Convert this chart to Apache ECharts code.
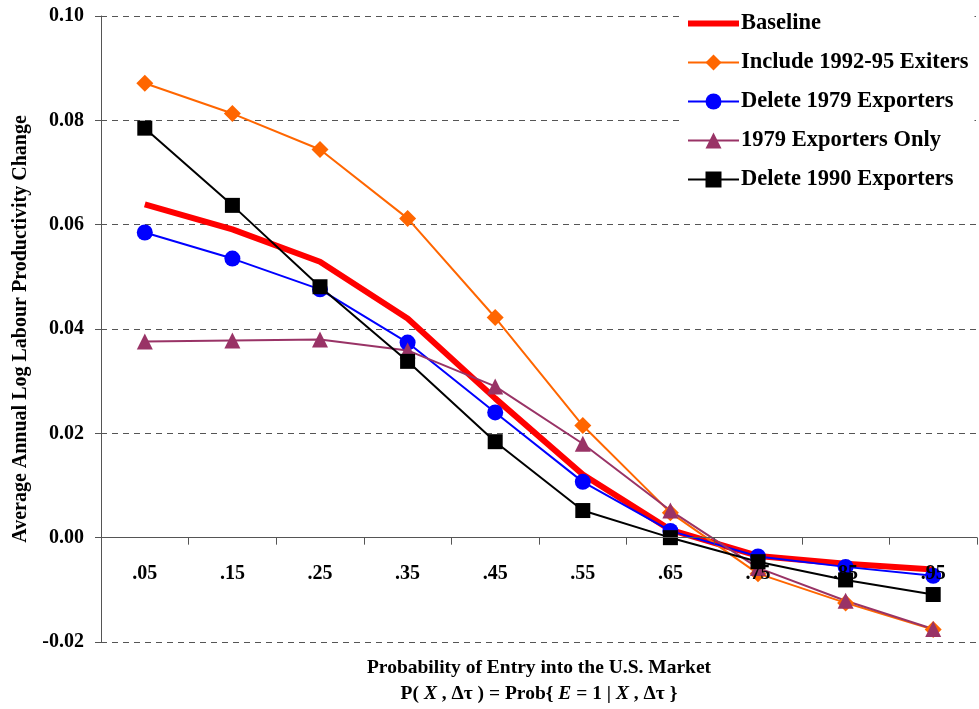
<!DOCTYPE html>
<html>
<head>
<meta charset="utf-8">
<script src="https://cdn.jsdelivr.net/npm/echarts@6/dist/echarts.min.js"></script>
<style>
  html, body { margin: 0; padding: 0; background: #fff; }
  #chart { width: 979px; height: 709px; }
</style>
</head>
<body>
<div id="chart"></div>
<script>
// Probability-of-entry bins
const categories = ['.05', '.15', '.25', '.35', '.45', '.55', '.65', '.75', '.85', '.95'];

// Average annual log labour productivity change by specification
const baseline      = [0.0639, 0.0591, 0.0529, 0.0420, 0.0267, 0.0121, 0.0015, -0.0035, -0.0050, -0.0061];
const include9295   = [0.0871, 0.0813, 0.0744, 0.0612, 0.0422, 0.0215, 0.0048, -0.0069, -0.0125, -0.0176];
const delete1979    = [0.0585, 0.0535, 0.0476, 0.0374, 0.0240, 0.0107, 0.0013, -0.0036, -0.0056, -0.0073];
const only1979      = [0.0376, 0.0378, 0.0380, 0.0359, 0.0290, 0.0180, 0.0052, -0.0058, -0.0121, -0.0175];
const delete1990    = [0.0785, 0.0637, 0.0481, 0.0338, 0.0184, 0.0052, 0.0000, -0.0046, -0.0081, -0.0109];

const seriesNames = ['Baseline', 'Include 1992-95 Exiters', 'Delete 1979 Exporters', '1979 Exporters Only', 'Delete 1990 Exporters'];

// Value axis range
const yMin = -0.02, yMax = 0.10, yStep = 0.02;

const serif = '"Liberation Serif", "DejaVu Serif", serif';

const W = 979, H = 709;
const grid = { left: 101, right: 2, top: 16, bottom: 67 };
const plotH = H - grid.top - grid.bottom;
// The category axis crosses the value axis at zero, carrying its labels with it
const zeroOffset = -plotH * (0 - yMin) / (yMax - yMin);

const chart = echarts.init(document.getElementById('chart'));

function lineSeries(name, data, color, width, symbol, size) {
  return {
    name: name,
    type: 'line',
    data: data,
    symbol: symbol,
    symbolSize: size,
    showSymbol: symbol !== 'none',
    lineStyle: { color: color, width: width },
    itemStyle: { color: color },
    emphasis: { disabled: true },
    animation: false
  };
}

chart.setOption({
  animation: false,
  grid: Object.assign({ containLabel: false }, grid),
  legend: {
    orient: 'vertical',
    left: 680,
    top: 6,
    data: [
      { name: seriesNames[0], lineStyle: { width: 6 }, itemStyle: { color: 'rgba(0,0,0,0)', borderWidth: 0 } },
      { name: seriesNames[1], lineStyle: { width: 2 } },
      { name: seriesNames[2], lineStyle: { width: 2 } },
      { name: seriesNames[3], lineStyle: { width: 2 } },
      { name: seriesNames[4], lineStyle: { width: 2 } }
    ],
    itemWidth: 51,
    itemHeight: 20,
    itemGap: 16,
    padding: [6, 6, 6, 5],
    backgroundColor: '#fff',
    textStyle: { fontFamily: serif, fontWeight: 'bold', fontSize: 22.5, color: '#000', padding: [0, 0, 0, -3] },
    selectedMode: false
  },
  xAxis: {
    type: 'category',
    data: categories,
    boundaryGap: true,
    offset: zeroOffset,
    z: 5,
    axisLine: { onZero: false, lineStyle: { color: '#555', width: 1 } },
    axisTick: { show: true, length: 7, lineStyle: { color: '#555' } },
    axisLabel: { fontFamily: serif, fontWeight: 'bold', fontSize: 20, color: '#000', margin: 26 },
    splitLine: { show: false }
  },
  yAxis: {
    type: 'value',
    min: yMin,
    max: yMax,
    interval: yStep,
    axisLine: { show: true, lineStyle: { color: '#555', width: 1 } },
    axisTick: { show: true, length: 6, lineStyle: { color: '#555' } },
    axisLabel: {
      fontFamily: serif, fontWeight: 'bold', fontSize: 20, color: '#000', margin: 17,
      formatter: v => v.toFixed(2)
    },
    splitLine: { show: true, lineStyle: { color: '#555', type: [6, 5], width: 1 } },
    name: 'Average Annual Log Labour Productivity Change',
    nameLocation: 'middle',
    nameRotate: 90,
    nameGap: 70,
    nameTextStyle: { fontFamily: serif, fontWeight: 'bold', fontSize: 20, color: '#000' }
  },
  graphic: [
    {
      type: 'text',
      x: 539, y: 668,
      style: {
        text: 'Probability of Entry into the U.S. Market',
        font: 'bold 19.5px ' + serif,
        fill: '#000',
        align: 'center',
        verticalAlign: 'middle'
      }
    },
    {
      type: 'text',
      x: 539, y: 694,
      style: {
        text: 'P( {i|X} , Δτ ) = Prob{ {i|E} = 1 | {i|X} , Δτ }',
        font: 'bold 19.5px ' + serif,
        fill: '#000',
        align: 'center',
        verticalAlign: 'middle',
        rich: {
          i: { fontStyle: 'italic', fontWeight: 'bold', fontSize: 19.5, fontFamily: serif, fill: '#000' }
        }
      }
    }
  ],
  series: [
    lineSeries(seriesNames[0], baseline, '#FF0000', 6, 'none', 0),
    lineSeries(seriesNames[1], include9295, '#FF6600', 2, 'diamond', 17),
    lineSeries(seriesNames[2], delete1979, '#0000FF', 2, 'circle', 16),
    lineSeries(seriesNames[3], only1979, '#993366', 2, 'triangle', 16),
    lineSeries(seriesNames[4], delete1990, '#000000', 2, 'rect', 15)
  ]
});
</script>
</body>
</html>
